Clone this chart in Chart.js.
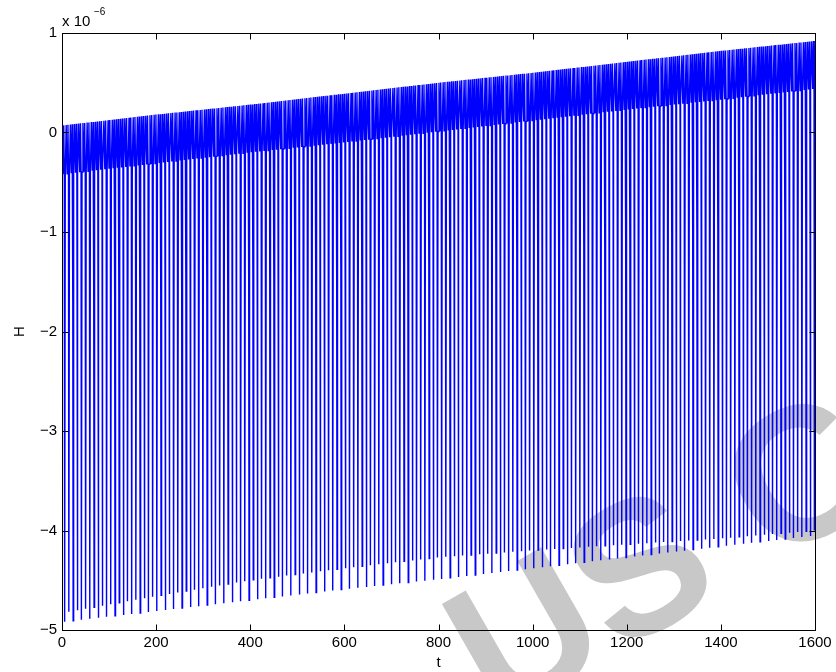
<!DOCTYPE html>
<html>
<head>
<meta charset="utf-8">
<script src="https://cdn.jsdelivr.net/npm/chart.js@4"></script>
<style>
  html, body { margin: 0; padding: 0; background: #fff; }
  #wrap { width: 836px; height: 672px; }
</style>
</head>
<body>
<div id="wrap"><canvas id="hChart" width="836" height="672"></canvas></div>
<script>
// Values in units of 1e-6
const xTicks = [0, 200, 400, 600, 800, 1000, 1200, 1400, 1600];
const yTicks = [-5, -4, -3, -2, -1, 0, 1];

// envelope samples at t = 0, 200, ..., 1600
const envTimes   = [0, 200, 400, 600, 800, 1000, 1200, 1400, 1600];
const bandTop    = [0.07, 0.18, 0.28, 0.39, 0.50, 0.60, 0.71, 0.82, 0.92];
const bandBottom = [-0.42, -0.31, -0.20, -0.10, 0.01, 0.12, 0.23, 0.33, 0.44];
const midLevel   = [-1.70, -1.59, -1.49, -1.38, -1.28, -1.17, -1.06, -0.96, -0.85];
const longMin    = [-4.92, -4.81, -4.70, -4.59, -4.49, -4.38, -4.27, -4.16, -4.05];
const shortMin   = [-4.83, -4.66, -4.50, -4.38, -4.27, -4.20, -4.14, -4.08, -4.00];
const period = 8.9;

function envAt(arr, t) {
    const step = envTimes[1] - envTimes[0];
    let i = Math.min(Math.floor(t / step), envTimes.length - 2);
    const f = (t - envTimes[i]) / step;
    return arr[i] + (arr[i + 1] - arr[i]) * f;
}

// build the H(t) trace cycle by cycle: zigzag in the band, then a deep dip
const points = [];
for (let k = 0; k * period <= 1600; k++) {
    const t0 = k * period;
    const dip = (k % 2 === 0) ? longMin : shortMin;
    const shape = [
        [0.00, bandTop],
        [0.22, bandBottom],
        [0.42, bandTop],
        [0.55, bandBottom],
        [0.60, midLevel],
        [0.66, dip],
        [0.78, bandBottom]
    ];
    shape.forEach(([u, arr]) => {
        const t = t0 + u * period;
        if (t <= 1600) points.push({ x: t, y: envAt(arr, t) });
    });
}
points.push({ x: 1600, y: envAt(bandTop, 1600) });

const FONT = '"Liberation Sans", Arial, Helvetica, sans-serif';

// MATLAB style box with inward ticks, axis labels, exponent and watermark
const matlabAxes = {
    id: 'matlabAxes',
    beforeDatasetsDraw(chart) {
        const ctx = chart.ctx;
        ctx.save();
        ctx.fillStyle = 'rgb(200,200,200)';
        ctx.font = 'bold 190px ' + FONT;
        ctx.textAlign = 'center';
        ctx.textBaseline = 'middle';
        ctx.translate(668, 565);
        ctx.rotate(-0.52);
        ctx.fillText('US C', 0, 0);
        ctx.restore();
    },
    afterDraw(chart) {
        const ctx = chart.ctx;
        const a = chart.chartArea;
        const xs = chart.scales.x, ys = chart.scales.y;
        const L = Math.round(a.left) + 0.5, R = Math.round(a.right) + 0.5;
        const T = Math.round(a.top) + 0.5, B = Math.round(a.bottom) + 0.5;
        ctx.save();
        ctx.strokeStyle = '#000';
        ctx.lineWidth = 1;
        ctx.strokeRect(L, T, R - L, B - T);
        ctx.beginPath();
        xTicks.forEach(v => {
            const px = Math.round(xs.getPixelForValue(v)) + 0.5;
            ctx.moveTo(px, B); ctx.lineTo(px, B - 6);
            ctx.moveTo(px, T); ctx.lineTo(px, T + 6);
        });
        yTicks.forEach(v => {
            const py = Math.round(ys.getPixelForValue(v)) + 0.5;
            ctx.moveTo(L, py); ctx.lineTo(L + 6, py);
            ctx.moveTo(R, py); ctx.lineTo(R - 6, py);
        });
        ctx.stroke();

        ctx.fillStyle = '#000';
        ctx.font = '15px ' + FONT;
        ctx.textAlign = 'center';
        ctx.textBaseline = 'alphabetic';
        ctx.fillText('t', (a.left + a.right) / 2, 667);

        ctx.save();
        ctx.translate(24, (a.top + a.bottom) / 2);
        ctx.rotate(-Math.PI / 2);
        ctx.fillText('H', 0, 0);
        ctx.restore();

        ctx.textAlign = 'left';
        ctx.fillText('x 10', 62, 26);
        ctx.font = '10px ' + FONT;
        ctx.fillText('\u22126', 94, 15);
        ctx.restore();
    }
};

new Chart(document.getElementById('hChart'), {
    type: 'line',
    data: {
        datasets: [{
            data: points,
            borderColor: 'rgb(0,0,255)',
            borderWidth: 1.4,
            pointRadius: 0,
            tension: 0,
            fill: false
        }]
    },
    options: {
        responsive: false,
        animation: false,
        parsing: false,
        normalized: true,
        layout: { padding: { left: 0, right: 21, top: 33, bottom: 0 } },
        plugins: {
            legend: { display: false },
            tooltip: { enabled: false }
        },
        scales: {
            x: {
                type: 'linear',
                min: 0,
                max: 1600,
                afterFit: scale => { scale.height = 42; },
                afterBuildTicks: scale => { scale.ticks = xTicks.map(v => ({ value: v })); },
                grid: { display: false, drawTicks: false },
                border: { display: false },
                ticks: {
                    padding: 4,
                    color: '#000',
                    font: { family: FONT, size: 15 },
                    maxRotation: 0,
                    callback: v => String(v)
                }
            },
            y: {
                type: 'linear',
                min: -5,
                max: 1,
                afterFit: scale => { scale.width = 62; },
                afterBuildTicks: scale => { scale.ticks = yTicks.map(v => ({ value: v })); },
                grid: { display: false, drawTicks: false },
                border: { display: false },
                ticks: {
                    padding: 5,
                    color: '#000',
                    font: { family: FONT, size: 15 },
                    callback: v => (v < 0 ? '\u2212' + Math.abs(v) : String(v))
                }
            }
        }
    },
    plugins: [matlabAxes]
});
</script>
</body>
</html>
